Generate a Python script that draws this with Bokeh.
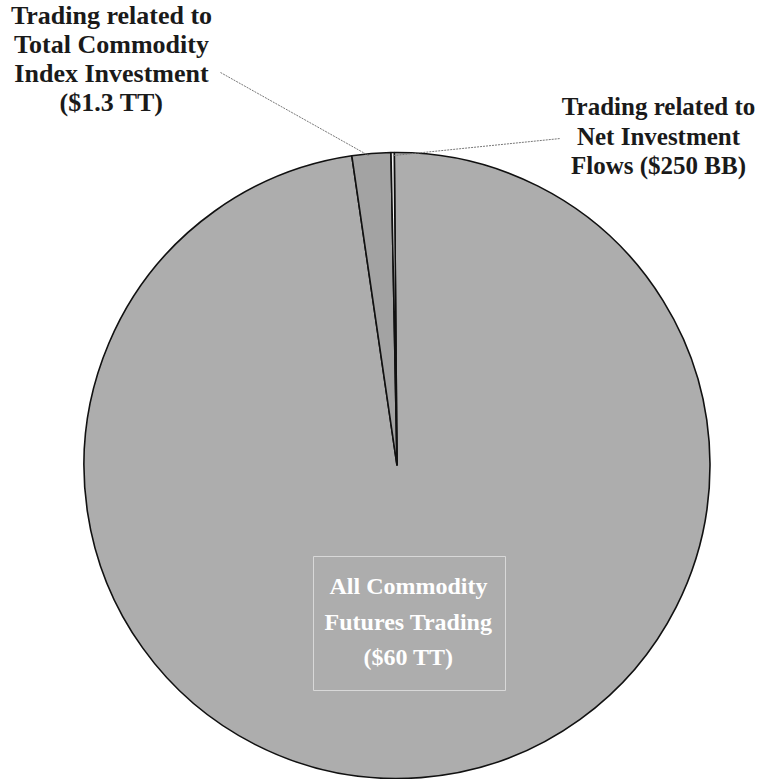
import math
from bokeh.plotting import figure
from bokeh.models import Range1d
from bokeh.core.properties import value
from bokeh.embed import file_html
from bokeh.resources import INLINE

# Slice values (trillions of dollars) as drawn in the pie
slice_names = ["Net Investment Flows", "Total Commodity Index Investment", "All Commodity Futures Trading"]
slice_values = [0.1, 1.2, 58.7]
slice_colors = ["#f2f2f2", "#a3a3a3", "#adadad"]

# Label texts
label_index = ["Trading related to", "Total Commodity", "Index Investment", "($1.3 TT)"]
label_net = ["Trading related to", "Net Investment", "Flows ($250 BB)"]
label_all = ["All Commodity", "Futures Trading", "($60 TT)"]

W, H = 767, 779
p = figure(width=W, height=H, output_backend="svg", toolbar_location=None,
           x_range=Range1d(0, W), y_range=Range1d(-H, 0),
           min_border=0, outline_line_color=None, background_fill_color="white",
           border_fill_color="white")
p.axis.visible = False
p.grid.visible = False

cx, cy, r = 396.5, -465.0, 313.0
offset = math.radians(0.5)
total = sum(slice_values)
start = math.pi / 2 + offset
starts, ends = [], []
for v in slice_values:
    span = 2 * math.pi * v / total
    starts.append(start)
    ends.append(start + span)
    start += span

# big slice first, then the thin ones on top
order = [2, 1, 0]
for i in order:
    p.wedge(x=cx, y=cy, radius=r, start_angle=starts[i], end_angle=ends[i],
            fill_color=slice_colors[i], line_color="#111111", line_width=1.6)

# faint box around the central label
p.quad(left=313, right=505, top=-556, bottom=-690, fill_color=None,
       line_color="#d8d8d8", line_width=1)

# leader lines
p.line(x=[220, 368], y=[-72, -155], line_color="#777777", line_width=1, line_dash="2 1")
p.line(x=[393, 560], y=[-155, -138], line_color="#777777", line_width=1, line_dash="2 1")

font = value("Liberation Serif")
ys_index = [-15, -44, -73, -102]
p.text(x=[111] * 4, y=ys_index, text=label_index, text_font=font, text_font_size="26px",
       text_font_style="bold", text_align="center", text_baseline="middle", text_color="#1a1a1a")
ys_net = [-106, -136, -165]
p.text(x=[658] * 3, y=ys_net, text=label_net, text_font=font, text_font_size="25px",
       text_font_style="bold", text_align="center", text_baseline="middle", text_color="#1a1a1a")
ys_all = [-585, -621, -656]
p.text(x=[408] * 3, y=ys_all, text=label_all, text_font=font, text_font_size="24px",
       text_font_style="bold", text_align="center", text_baseline="middle", text_color="white")

open("out.html", "w").write(file_html(p, INLINE))
